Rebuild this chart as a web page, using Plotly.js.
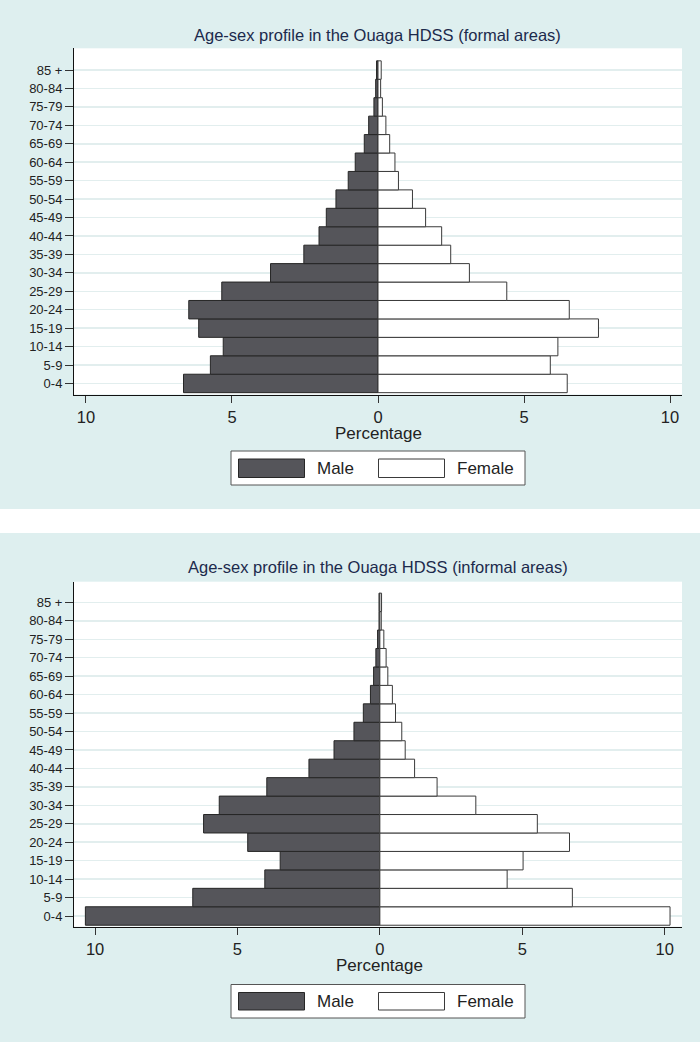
<!DOCTYPE html>
<html>
<head>
<meta charset="utf-8">
<script src="https://cdn.plot.ly/plotly-3.0.1.min.js"></script>
<style>html,body{margin:0;padding:0;background:#deefef;}#chart{width:700px;height:1042px;}</style>
</head>
<body>
<div id="chart"></div>
<script>
// ---- data ----
const ageGroups = ['0-4','5-9','10-14','15-19','20-24','25-29','30-34','35-39','40-44','45-49','50-54','55-59','60-64','65-69','70-74','75-79','80-84','85 +'];
const formalMale   = [6.66,5.74,5.30,6.14,6.48,5.35,3.68,2.54,2.02,1.77,1.44,1.02,0.78,0.47,0.32,0.14,0.08,0.05];
const formalFemale = [6.48,5.90,6.16,7.55,6.55,4.41,3.13,2.49,2.18,1.63,1.18,0.70,0.58,0.40,0.27,0.15,0.09,0.11];
const informalMale   = [10.34,6.57,4.04,3.50,4.64,6.19,5.64,3.97,2.49,1.61,0.91,0.58,0.33,0.22,0.14,0.08,0.03,0.03];
const informalFemale = [10.19,6.76,4.47,5.03,6.66,5.53,3.37,2.01,1.22,0.89,0.77,0.55,0.44,0.28,0.22,0.14,0.05,0.06];
const xTickVals = [-10,-5,0,5,10];
const xTickText = ['10','5','0','5','10'];
const titles = ['Age-sex profile in the Ouaga HDSS (formal areas)','Age-sex profile in the Ouaga HDSS (informal areas)'];
const seriesNames = ['Male','Female'];

// ---- style ----
const W = 700, H = 1042;
const BG = '#deefef';
const MALE = '#55555a';
const FONT = 'Liberation Sans, Arial, sans-serif';
const TXT = '#222222';
const px = x => x / W;
const py = y => 1 - y / H;

function bars(male, female, xa, ya) {
  return [
    {type:'bar', orientation:'h', y: ageGroups, x: male.map(v => -v), width: 1,
     marker:{color:MALE, line:{color:'#262626', width:1}}, xaxis:xa, yaxis:ya,
     showlegend:false, hoverinfo:'skip'},
    {type:'bar', orientation:'h', y: ageGroups, x: female, width: 1,
     marker:{color:'#ffffff', line:{color:'#3a3a3a', width:1}}, xaxis:xa, yaxis:ya,
     showlegend:false, hoverinfo:'skip'}
  ];
}

const data = [...bars(formalMale, formalFemale, 'x', 'y'), ...bars(informalMale, informalFemale, 'x2', 'y2')];

function xax(range, anchor) {
  return {range: range, domain:[px(74), px(682)], anchor: anchor,
    tickmode:'array', tickvals:xTickVals, ticktext:xTickText,
    ticks:'outside', ticklen:7, tickwidth:1, tickcolor:'#333',
    showline:true, linecolor:'#111', linewidth:1.3, showgrid:false, zeroline:false,
    tickfont:{family:FONT, size:16.5, color:TXT}, fixedrange:true};
}
function yax(domain, range, anchor) {
  return {type:'category', categoryorder:'array', categoryarray:ageGroups,
    domain: domain, range: range, anchor: anchor,
    ticks:'outside', ticklen:8, tickwidth:1, tickcolor:'#333',
    showline:true, linecolor:'#111', linewidth:1, showgrid:true, gridcolor:'#e2eeee', gridwidth:1.5,
    zeroline:false, tickfont:{family:FONT, size:13, color:TXT}, fixedrange:true};
}

const shapes = [
  {type:'rect', xref:'paper', yref:'paper', x0:0, x1:1, y0:py(533), y1:py(509), fillcolor:'#ffffff', line:{width:0}, layer:'below'}
];
const annotations = [];

function legend(boxTop, boxBot, sw0, sw1, textY) {
  shapes.push({type:'rect', xref:'paper', yref:'paper', x0:px(231), x1:px(525), y0:py(boxBot), y1:py(boxTop), fillcolor:'#ffffff', line:{color:'#555', width:1}});
  shapes.push({type:'rect', xref:'paper', yref:'paper', x0:px(238.5), x1:px(304.5), y0:py(sw1), y1:py(sw0), fillcolor:MALE, line:{color:'#262626', width:1}});
  shapes.push({type:'rect', xref:'paper', yref:'paper', x0:px(378.5), x1:px(444.5), y0:py(sw1), y1:py(sw0), fillcolor:'#ffffff', line:{color:'#3a3a3a', width:1}});
  annotations.push({xref:'paper', yref:'paper', x:px(315), y:py(textY), xanchor:'left', yanchor:'middle', text:seriesNames[0], showarrow:false, font:{family:FONT, size:17, color:TXT}});
  annotations.push({xref:'paper', yref:'paper', x:px(455), y:py(textY), xanchor:'left', yanchor:'middle', text:seriesNames[1], showarrow:false, font:{family:FONT, size:17, color:TXT}});
}
legend(451, 485, 459, 477.5, 469);
legend(984.5, 1018, 992.5, 1010, 1001.5);

annotations.push({xref:'paper', yref:'paper', x:px(377.5), y:py(35), xanchor:'center', yanchor:'middle', text:titles[0], showarrow:false, font:{family:FONT, size:16.5, color:'#1c2a4c'}});
annotations.push({xref:'paper', yref:'paper', x:px(377.5), y:py(566.5), xanchor:'center', yanchor:'middle', text:titles[1], showarrow:false, font:{family:FONT, size:16.5, color:'#1c2a4c'}});
annotations.push({xref:'paper', yref:'paper', x:px(378.5), y:py(433), xanchor:'center', yanchor:'middle', text:'Percentage', showarrow:false, font:{family:FONT, size:17, color:TXT}});
annotations.push({xref:'paper', yref:'paper', x:px(380), y:py(965), xanchor:'center', yanchor:'middle', text:'Percentage', showarrow:false, font:{family:FONT, size:17, color:TXT}});

const layout = {
  width: W, height: H,
  margin:{l:0, r:0, t:0, b:0},
  paper_bgcolor: BG, plot_bgcolor:'#ffffff',
  barmode:'overlay', bargap:0,
  showlegend:false,
  xaxis: xax([-10.41, 10.41], 'y'),
  yaxis: yax([py(394.5), py(48.3)], [-0.6, 18.18], 'x'),
  xaxis2: xax([-10.74, 10.61], 'y2'),
  yaxis2: yax([py(926.7), py(581.7)], [-0.58, 18.12], 'x2'),
  shapes: shapes,
  annotations: annotations
};

Plotly.newPlot('chart', data, layout, {displayModeBar:false, staticPlot:true});
</script>
</body>
</html>
